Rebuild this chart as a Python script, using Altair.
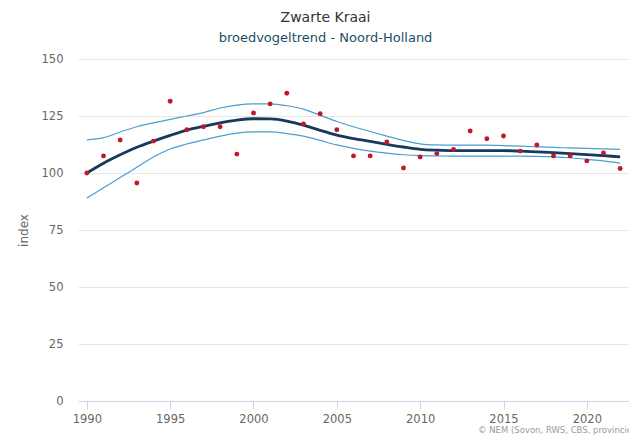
import altair as alt
import pandas as pd

years = list(range(1990, 2023))
trend = [100, 104.3, 108, 111.3, 114, 116.5, 118.8, 120.5, 122, 123.2, 123.8, 123.7,
         122.8, 121, 118.7, 116.6, 115.1, 113.9, 112.6, 111.4, 110.4, 110, 109.8,
         109.8, 109.8, 109.8, 109.6, 109.3, 108.9, 108.5, 108.1, 107.6, 107.1]
upper = [114.5, 115.5, 118, 120.3, 122, 123.5, 125, 126.5, 128.5, 129.8, 130.3, 130.3,
         129.5, 128, 125.3, 122.6, 120.3, 118.2, 116.2, 114.3, 112.8, 112.3, 112.2,
         112.2, 112.2, 112, 111.8, 111.5, 111.2, 111, 110.8, 110.6, 110.4]
lower = [89, 93.5, 98, 102.5, 107, 110.5, 112.7, 114.5, 116.2, 117.5, 118, 118,
         117.3, 116.2, 114.3, 112.3, 110.8, 109.6, 108.7, 108, 107.6, 107.5, 107.4,
         107.4, 107.4, 107.4, 107.4, 107.3, 107.1, 106.7, 106, 105.3, 104.3]
index_points = [100, 107.5, 114.5, 95.6, 114, 131.5, 119, 120.3, 120.3, 108.3, 126.3, 130.3,
                135, 121.5, 126, 119, 107.5, 107.5, 113.6, 102.2, 107, 108.5, 110.3,
                118.4, 115, 116.2, 109.6, 112.3, 107.5, 107.5, 105.3, 108.8, 102]
x_ticks = [1990, 1995, 2000, 2005, 2010, 2015, 2020]
y_ticks = [0, 25, 50, 75, 100, 125, 150]

df = pd.DataFrame({"jaar": years, "trend": trend, "boven": upper, "onder": lower,
                   "index": index_points})

FONT = "DejaVu Sans"
x_scale = alt.Scale(domain=[1989.47, 2022.53], nice=False, zero=False)
y_scale = alt.Scale(domain=[0, 150], nice=False)

x_axis = alt.Axis(values=x_ticks, format="d", title=None, grid=False,
                  domainColor="#ccd6eb", tickColor="#ccd6eb", tickSize=8,
                  labelColor="#666666", labelFontSize=11.5, labelFont=FONT,
                  labelPadding=4)
y_axis = alt.Axis(values=y_ticks, title="index", grid=True, gridColor="#e6e6e6",
                  domain=False, ticks=False, labelPadding=15,
                  labelColor="#666666", labelFontSize=11.5, labelFont=FONT,
                  titleColor="#666666", titleFontSize=12, titleFont=FONT,
                  titleFontWeight="normal", titleX=-55, titleY=171,
                  titleAngle=-90, titleBaseline="middle", titleAlign="center")

base = alt.Chart(df)

ci_up = base.mark_line(color="#4a9fd0", strokeWidth=1.2, interpolate="monotone").encode(
    x=alt.X("jaar:Q", scale=x_scale, axis=x_axis),
    y=alt.Y("boven:Q", scale=y_scale, axis=y_axis),
)
ci_low = base.mark_line(color="#4a9fd0", strokeWidth=1.2, interpolate="monotone").encode(
    x=alt.X("jaar:Q", scale=x_scale),
    y=alt.Y("onder:Q", scale=y_scale),
)
tr = base.mark_line(color="#17395a", strokeWidth=2.8, interpolate="monotone").encode(
    x=alt.X("jaar:Q", scale=x_scale),
    y=alt.Y("trend:Q", scale=y_scale),
)
pts = base.mark_circle(color="#c0182a", size=24, opacity=1).encode(
    x=alt.X("jaar:Q", scale=x_scale),
    y=alt.Y("index:Q", scale=y_scale),
)
credit = alt.Chart(pd.DataFrame({"t": ["© NEM (Sovon, RWS, CBS, provincies)"]})).mark_text(
    align="left", baseline="alphabetic", fontSize=8.5, font=FONT, color="#999999"
).encode(x=alt.value(400), y=alt.value(374), text="t:N")

chart = alt.layer(ci_up, ci_low, tr, pts, credit).properties(
    width=551, height=342,
    autosize=alt.AutoSizeParams(type="none"),
    padding={"left": 70, "top": 51, "right": 0, "bottom": 40},
    title=alt.TitleParams(
        text="Zwarte Kraai", subtitle="broedvogeltrend - Noord-Holland",
        anchor="middle", dx=-28, offset=8,
        font=FONT, fontSize=14, fontWeight="normal", color="#333333",
        subtitleFont=FONT, subtitleFontSize=13, subtitleColor="#1d4e63",
        subtitlePadding=7,
    ),
).configure_view(stroke=None)

chart.save("out.html", embed_options={"renderer": "svg", "actions": False})
